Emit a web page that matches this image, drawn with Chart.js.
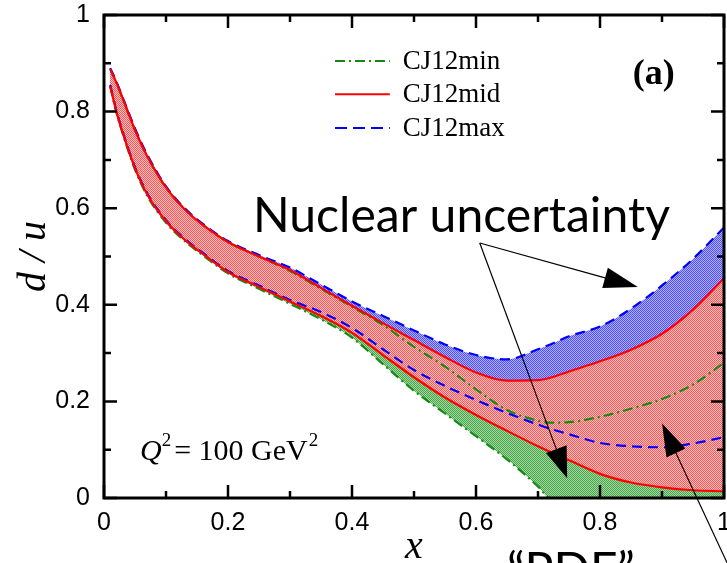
<!DOCTYPE html>
<html><head><meta charset="utf-8">
<script src="https://cdn.jsdelivr.net/npm/chart.js@4.4.0/dist/chart.umd.min.js"></script>
<style>html,body{margin:0;padding:0;background:#fff;overflow:hidden}</style>
</head><body>
<canvas id="c" width="727" height="563"></canvas>
<script>
// ---- data ----
const xValues      = [0.01,0.02,0.03,0.05,0.07,0.1,0.13,0.16,0.2,0.25,0.3,0.35,0.4,0.45,0.5,0.55,0.6,0.65,0.7,0.72,0.75,0.8,0.85,0.9,0.95,1.0];
const midUpper     = [.888,.86,.828,.762,.707,.643,.598,.565,.53,.5,.472,.435,.398,.362,.327,.292,.26,.243,.244,.249,.262,.283,.307,.34,.39,.455];
const midLower     = [.853,.80,.757,.683,.628,.573,.535,.505,.468,.437,.407,.377,.342,.296,.25,.208,.172,.139,.107,.095,.078,.05,.032,.022,.016,.014];
const maxUpper     = [.89,.862,.83,.765,.71,.645,.60,.567,.532,.503,.477,.442,.407,.377,.347,.318,.296,.287,.308,.318,.335,.355,.392,.44,.495,.56];
const maxLower     = [.855,.802,.759,.685,.63,.575,.537,.507,.47,.44,.41,.385,.352,.308,.265,.232,.203,.176,.152,.143,.132,.114,.107,.105,.113,.126];
const minUpper     = [.888,.86,.828,.762,.707,.643,.598,.565,.53,.5,.47,.433,.396,.358,.313,.272,.225,.182,.16,.156,.157,.168,.185,.205,.235,.28];
const minLower     = [.852,.798,.755,.68,.625,.57,.532,.502,.465,.433,.402,.37,.332,.277,.222,.175,.128,.08,.024,0,0,0,0,0,0,0];
const seriesNames  = ['CJ12min','CJ12mid','CJ12max'];
const xTickValues  = [0,0.2,0.4,0.6,0.8,1];
const yTickValues  = [0,0.2,0.4,0.6,0.8,1];

const RED='#ff0000', BLUE='#0000ff', GREEN='#168a16';
const canvas=document.getElementById('c');
const mainCtx=canvas.getContext('2d');
function checker(c1,c2){
  const cv=document.createElement('canvas'); cv.width=2; cv.height=2;
  const g=cv.getContext('2d'); g.fillStyle=c2; g.fillRect(0,0,2,2);
  g.fillStyle=c1; g.fillRect(0,0,1,1); g.fillRect(1,1,1,1);
  return mainCtx.createPattern(cv,'repeat');
}
const redFill=checker('rgb(255,85,85)','rgb(255,195,195)');
const blueFill=checker('rgb(80,80,255)','rgb(175,175,255)');
const greenFill=checker('rgb(70,165,70)','rgb(165,215,165)');

function pts(ys){ return xValues.map((x,i)=>({x:x,y:ys[i]})); }
function ds(label,ys,color,dash,fill,bg){
  return {label:label,data:pts(ys),borderColor:color,borderWidth:2.2,borderDash:dash,
    fill:fill,backgroundColor:bg||'transparent',pointRadius:0,cubicInterpolationMode:'monotone'};
}

const datasets=[
  ds(seriesNames[1]+' upper',midUpper,RED,[],'+1',redFill),
  ds(seriesNames[1]+' lower',midLower,RED,[],false),
  ds(seriesNames[2]+' upper',maxUpper,BLUE,[10,6],'+1',blueFill),
  ds(seriesNames[2]+' lower',maxLower,BLUE,[10,6],false),
  ds(seriesNames[0]+' upper',minUpper,GREEN,[10,4,2,4],'+1',greenFill),
  ds(seriesNames[0]+' lower',minLower,GREEN,[10,4,2,4],false)
];

const legendRows=[
  {label:seriesNames[0],color:GREEN,dash:[10,4,2,4]},
  {label:seriesNames[1],color:RED,dash:[]},
  {label:seriesNames[2],color:BLUE,dash:[12,6]}
];

function arrow(ctx,x1,y1,x2,y2,hl,hw){
  const dx=x2-x1, dy=y2-y1, L=Math.hypot(dx,dy), ux=dx/L, uy=dy/L;
  const bx=x2-ux*hl, by=y2-uy*hl;
  ctx.beginPath(); ctx.moveTo(x1,y1); ctx.lineTo(bx,by); ctx.lineWidth=1.2; ctx.strokeStyle='#000'; ctx.stroke();
  ctx.beginPath(); ctx.moveTo(x2,y2); ctx.lineTo(bx-uy*hw/2,by+ux*hw/2); ctx.lineTo(bx+uy*hw/2,by-ux*hw/2); ctx.closePath();
  ctx.fillStyle='#000'; ctx.fill();
}

const deco={
  id:'deco',
  afterDraw(chart){
    const ctx=chart.ctx, a=chart.chartArea, X=chart.scales.x, Y=chart.scales.y;
    const px=v=>X.getPixelForValue(v), py=v=>Y.getPixelForValue(v);
    ctx.save();
    ctx.strokeStyle='#000'; ctx.lineWidth=3; ctx.setLineDash([]);
    ctx.strokeRect(a.left,a.top,a.right-a.left,a.bottom-a.top);
    ctx.lineWidth=2.5;
    for(let k=0;k<=10;k++){
      const v=k/10, L=(k%2===0)?13:7, tx=px(v), ty=py(v);
      ctx.beginPath();
      ctx.moveTo(tx,a.bottom); ctx.lineTo(tx,a.bottom-L);
      ctx.moveTo(tx,a.top); ctx.lineTo(tx,a.top+L);
      ctx.moveTo(a.left,ty); ctx.lineTo(a.left+L,ty);
      ctx.moveTo(a.right,ty); ctx.lineTo(a.right-L,ty);
      ctx.stroke();
    }
    // legend
    ctx.font='27px "Liberation Serif"'; ctx.textBaseline='middle'; ctx.textAlign='left';
    const ly=[0.905,0.836,0.766];
    legendRows.forEach((r,i)=>{
      const y=py(ly[i]);
      ctx.beginPath(); ctx.setLineDash(r.dash); ctx.strokeStyle=r.color; ctx.lineWidth=2;
      ctx.moveTo(px(0.3726),y); ctx.lineTo(px(0.461),y); ctx.stroke();
      ctx.setLineDash([]); ctx.fillStyle='#000'; ctx.fillText(r.label,px(0.482),y+1);
    });
    // (a)
    ctx.font='bold 36px "Liberation Serif"'; ctx.textBaseline='alphabetic';
    ctx.fillText('(a)',px(0.853),py(0.858));
    // Q^2 = 100 GeV^2
    let qx=px(0.058); const qy=py(0.079);
    ctx.font='italic 30px "Liberation Serif"'; ctx.fillText('Q',qx,qy); qx+=ctx.measureText('Q').width;
    ctx.font='19px "Liberation Serif"'; ctx.fillText('2',qx,qy-14); qx+=ctx.measureText('2').width+3;
    ctx.font='30px "Liberation Serif"'; ctx.fillText('= 100 GeV',qx,qy); qx+=ctx.measureText('= 100 GeV').width;
    ctx.font='19px "Liberation Serif"'; ctx.fillText('2',qx+1,qy-14);
    // big annotation text
    ctx.font='48px Lato';
    const w=ctx.measureText('Nuclear uncertainty').width;
    const size=48*417/w;
    ctx.font=size+'px Lato';
    ctx.fillText('Nuclear uncertainty',253,232);
    const capH=ctx.measureText('P').actualBoundingBoxAscent;
    ctx.fillText('\u201cPDF\u201d',507,552+capH);
    // arrows
    const s={x:px(0.606),y:py(0.528)};
    arrow(ctx,s.x,s.y,px(0.861),py(0.437),34,21);
    arrow(ctx,s.x,s.y,px(0.747),py(0.041),31,22);
    arrow(ctx,px(1.018),py(-0.17),px(0.9),py(0.155),33,21);
    ctx.restore();
  }
};

new Chart(canvas,{
  type:'line',
  data:{datasets:datasets},
  options:{
    responsive:false, animation:false, devicePixelRatio:1,
    layout:{padding:{top:15,right:3,left:0,bottom:0}},
    plugins:{legend:{display:false},tooltip:{enabled:false},filler:{drawTime:'beforeDatasetsDraw'}},
    scales:{
      x:{type:'linear',min:0,max:1,
        afterBuildTicks:s=>{s.ticks=xTickValues.map(v=>({value:v}));},
        afterFit:s=>{s.height=65;s.paddingLeft=0;s.paddingRight=0;},
        grid:{display:false,drawTicks:false},border:{display:false},
        ticks:{padding:10,color:'#000',font:{family:'"Liberation Sans"',size:25},maxRotation:0,autoSkip:false,callback:v=>String(v)},
        title:{display:true,text:'x',color:'#000',font:{family:'"Liberation Serif"',style:'italic',size:40,lineHeight:0.8},padding:{top:0,bottom:0}}
      },
      y:{type:'linear',min:0,max:1,
        afterBuildTicks:s=>{s.ticks=yTickValues.map(v=>({value:v}));},
        afterFit:s=>{s.width=104;s.paddingTop=0;s.paddingBottom=0;},
        grid:{display:false,drawTicks:false},border:{display:false},
        ticks:{padding:14,color:'#000',font:{family:'"Liberation Sans"',size:25},autoSkip:false,callback:v=>String(v)},
        title:{display:true,text:'d / u',color:'#000',font:{family:'"Liberation Serif"',style:'italic',size:40,lineHeight:1.2},padding:{top:10,bottom:0}}
      }
    }
  },
  plugins:[deco]
});
</script>
</body></html>
